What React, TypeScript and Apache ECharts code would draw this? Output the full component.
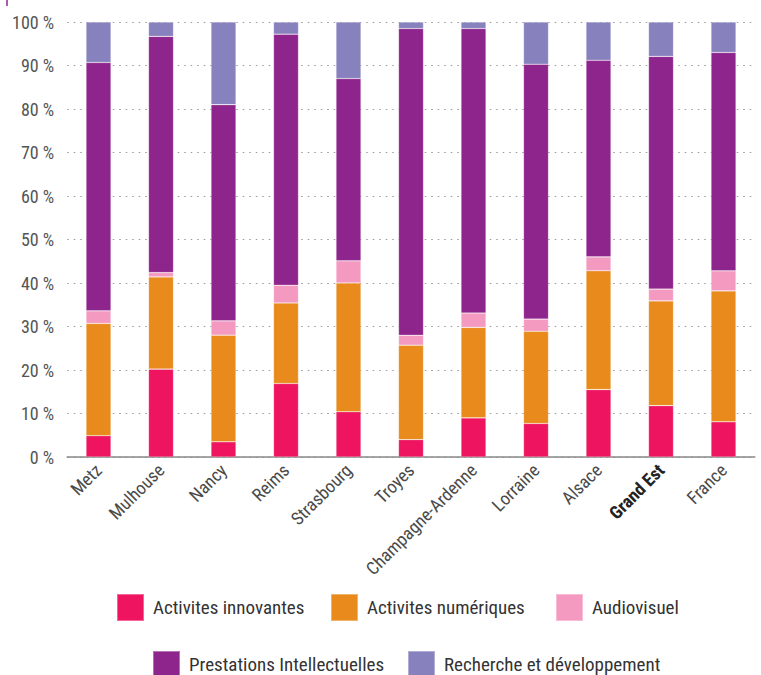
import React, { useEffect, useRef } from "react";
import * as echarts from "echarts";

const categories = [
  "Metz", "Mulhouse", "Nancy", "Reims", "Strasbourg", "Troyes",
  "Champagne-Ardenne", "Lorraine", "Alsace", "Grand Est", "France",
];
const seriesNames = [
  "Activites innovantes", "Activites numériques", "Audiovisuel",
  "Prestations Intellectuelles", "Recherche et développement",
];
const innovantes = [4.9, 20.2, 3.5, 16.9, 10.4, 4.0, 9.0, 7.7, 15.5, 11.8, 8.1];
const numeriques = [25.8, 21.2, 24.5, 18.5, 29.6, 21.7, 20.8, 21.2, 27.3, 24.1, 30.1];
const audiovisuel = [2.9, 1.0, 3.3, 4.1, 5.1, 2.3, 3.3, 2.8, 3.2, 2.7, 4.6];
const prestations = [57.1, 54.3, 49.7, 57.7, 41.9, 70.5, 65.4, 58.6, 45.2, 53.5, 50.2];
const recherche = [9.3, 3.3, 19.0, 2.8, 13.0, 1.5, 1.5, 9.7, 8.8, 7.9, 7.0];
const yTicks = [0, 10, 20, 30, 40, 50, 60, 70, 80, 90, 100];

const colors = ["#EE1460", "#E88B1C", "#F49AC1", "#8E258D", "#8781BD"];
const FONT = "'Roboto Condensed', 'Liberation Sans Narrow', Roboto, sans-serif";

export default function App() {
  const ref = useRef<HTMLDivElement>(null);
  useEffect(() => {
    document.body.style.margin = "0";
    const chart = echarts.init(ref.current!, null, { renderer: "svg" });
    const values = [innovantes, numeriques, audiovisuel, prestations, recherche];
    const legendLefts = [116, 330, 555, 152, 407];
    const legendTops = [593, 593, 593, 650, 650];
    chart.setOption({
      animation: false,
      textStyle: { fontFamily: FONT },
      grid: { left: 67.25, right: 6.25, top: 22, bottom: 218, containLabel: false },
      xAxis: {
        type: "category",
        data: categories,
        axisLine: { lineStyle: { color: "#888", width: 1.5 } },
        axisTick: { show: false },
        axisLabel: {
          rotate: 45,
          interval: 0,
          margin: 10,
          fontSize: 18,
          color: "#4a4a4a",
          fontFamily: FONT,
          formatter: (v: string) => (v === "Grand Est" ? "{b|" + v + "}" : v),
          rich: { b: { fontWeight: "bold", fontSize: 18, color: "#222", fontFamily: FONT } },
        },
      },
      yAxis: {
        type: "value",
        min: 0,
        max: 100,
        interval: 10,
        axisLine: { show: false },
        axisTick: { show: false },
        axisLabel: {
          margin: 13,
          fontSize: 18,
          color: "#555",
          fontFamily: FONT,
          formatter: (v: number) => (yTicks.includes(v) ? v + " %" : ""),
        },
        splitLine: { lineStyle: { color: "#999", type: [1.5, 5], width: 1.2 } },
      },
      legend: seriesNames.map((n, i) => ({
        data: [n],
        left: legendLefts[i],
        top: legendTops[i],
        padding: 0,
        itemWidth: 27,
        itemHeight: 27,
        itemGap: 0,
        icon: "rect",
        textStyle: { fontSize: 19, color: "#333", fontFamily: FONT, padding: [0, 0, 0, 4] },
        selectedMode: false,
      })),
      series: seriesNames.map((n, i) => ({
        name: n,
        type: "bar",
        stack: "total",
        barWidth: 25,
        data: values[i],
        itemStyle: { color: colors[i], borderColor: "rgba(255,255,255,0.35)", borderWidth: 0.6 },
      })),
      graphic: [
        { type: "line", shape: { x1: 7, y1: 0, x2: 7, y2: 6 }, style: { stroke: "#8E258D", lineWidth: 1.5 } },
      ],
    });
    return () => chart.dispose();
  }, []);
  return <div ref={ref} style={{ width: 761, height: 675 }} />;
}
